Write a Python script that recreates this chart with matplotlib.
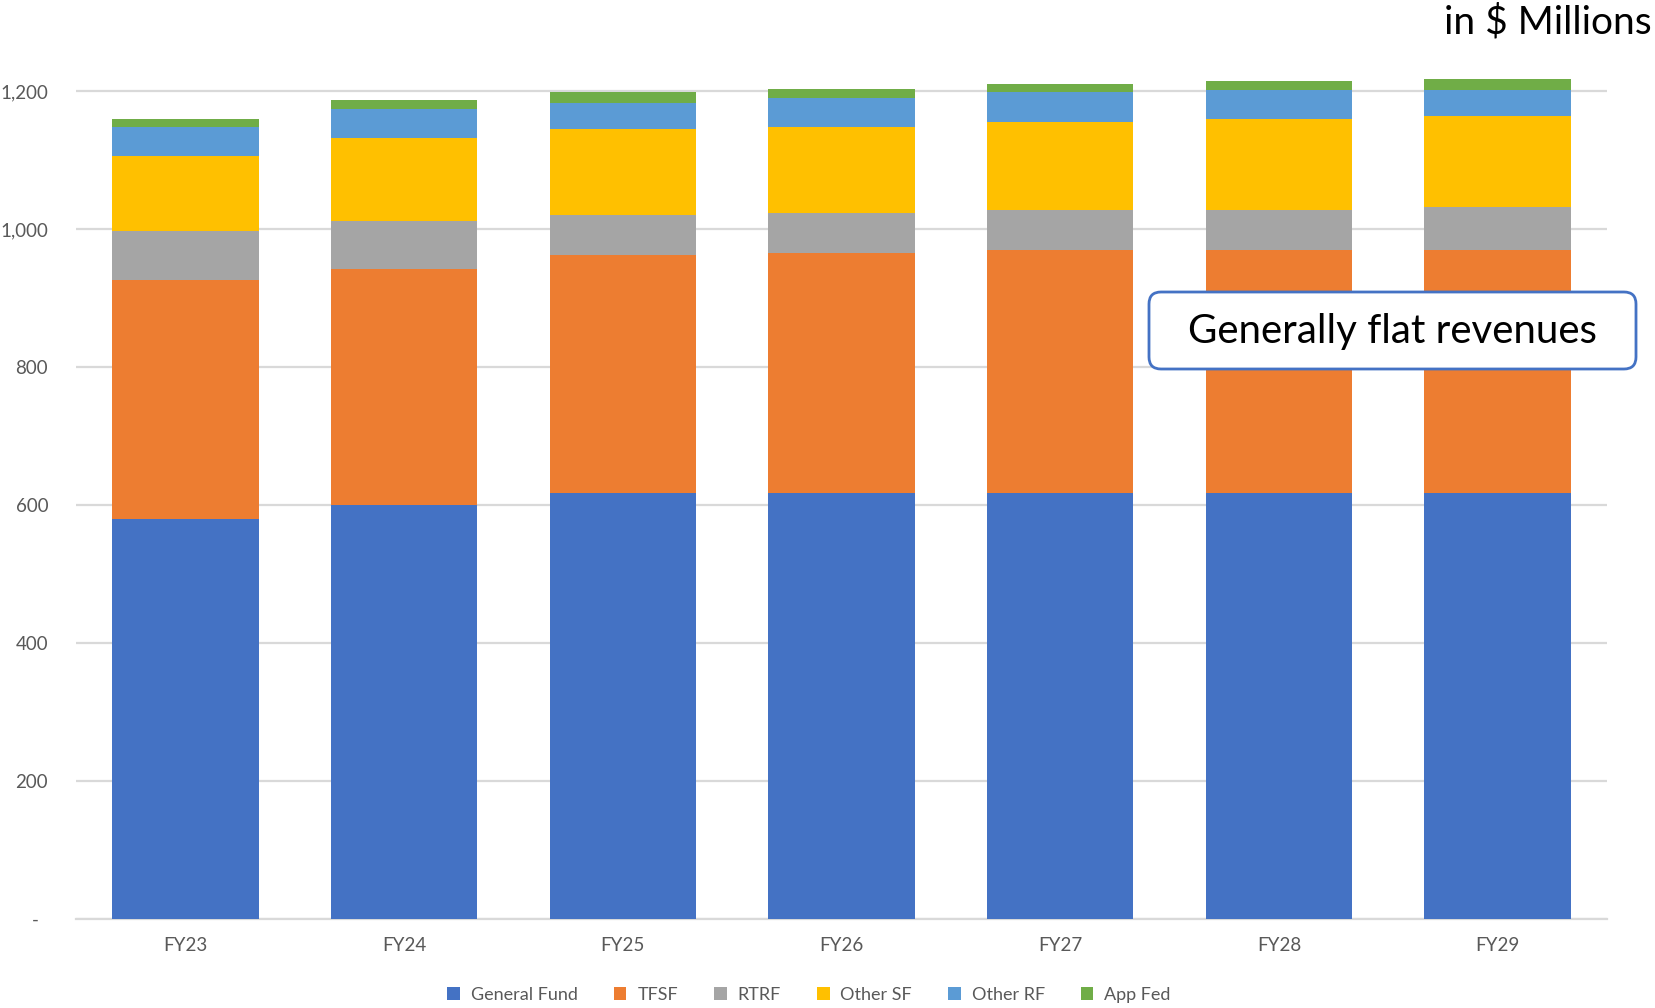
import matplotlib
matplotlib.use("Agg")
import matplotlib.pyplot as plt
import numpy as np
from matplotlib.patches import FancyBboxPatch, Patch
from matplotlib.transforms import IdentityTransform

plt.rcParams['font.family'] = ['Lato', 'DejaVu Sans']

categories = ["FY23", "FY24", "FY25", "FY26", "FY27", "FY28", "FY29"]
general_fund = [580, 600, 618, 618, 618, 618, 618]
tfsf = [347, 343, 345, 348, 352, 352, 352]
rtrf = [70, 69, 58, 58, 58, 58, 62]
other_sf = [109, 121, 124, 124, 128, 132, 132]
other_rf = [43, 42, 39, 43, 43, 42, 38]
app_fed = [11, 12, 15, 12, 12, 13, 16]

series_names = ["General Fund", "TFSF", "RTRF", "Other SF", "Other RF", "App Fed"]
series_values = [general_fund, tfsf, rtrf, other_sf, other_rf, app_fed]
colors = ["#4472C4", "#ED7D31", "#A5A5A5", "#FFC000", "#5B9BD5", "#70AD47"]

yticks = [0, 200, 400, 600, 800, 1000, 1200]
ytick_labels = ["-  ", "200", "400", "600", "800", "1,000", "1,200"]

W, H = 1655, 1008
fig = plt.figure(figsize=(W / 100, H / 100), dpi=100)
ax = fig.add_axes([76 / W, 1 - 919 / H, (1607 - 76) / W, (919 - 57) / H])

x = np.arange(len(categories))
bottom = np.zeros(len(categories))
for name, vals, c in zip(series_names, series_values, colors):
    v = np.array(vals, dtype=float)
    ax.bar(x, v, bottom=bottom, width=0.67, color=c, label=name, zorder=3)
    bottom += v

ax.set_xlim(-0.5, len(categories) - 0.5)
ax.set_ylim(0, 1250)
ax.set_yticks(yticks)
ax.set_yticklabels(ytick_labels)
ax.set_xticks(x)
ax.set_xticklabels(categories)
ax.grid(axis='y', color='#D9D9D9', linewidth=1.6, zorder=0)
ax.set_axisbelow(True)
for s in ['top', 'right', 'left']:
    ax.spines[s].set_visible(False)
ax.spines['bottom'].set_color('#D9D9D9')
ax.spines['bottom'].set_linewidth(1.6)
ax.tick_params(axis='both', length=0, labelsize=13.5, colors='#595959')
ax.tick_params(axis='y', pad=20)
ax.tick_params(axis='x', pad=13)

handles = [Patch(facecolor=c, label=n) for n, c in zip(series_names, colors)]
fig.legend(handles=handles, loc='center', bbox_to_anchor=(809 / W, 1 - 995 / H),
           ncol=6, frameon=False, fontsize=13, handlelength=0.7, handleheight=0.7,
           handletextpad=0.6, columnspacing=2.0, labelcolor='#595959')

fig.text(1652 / W, 1 - 22 / H, "in $ Millions", ha='right', va='center', fontsize=28, color='black')

box = FancyBboxPatch((1149, H - 369), 487, 77, boxstyle="round,pad=0,rounding_size=12",
                     transform=IdentityTransform(), facecolor='white', edgecolor='#4472C4',
                     linewidth=2, zorder=10)
fig.patches.append(box)
fig.text(1392 / W, 1 - 331 / H, "Generally flat revenues", ha='center', va='center',
         fontsize=29, color='black', zorder=11)

fig.savefig("out.png", dpi=100)
